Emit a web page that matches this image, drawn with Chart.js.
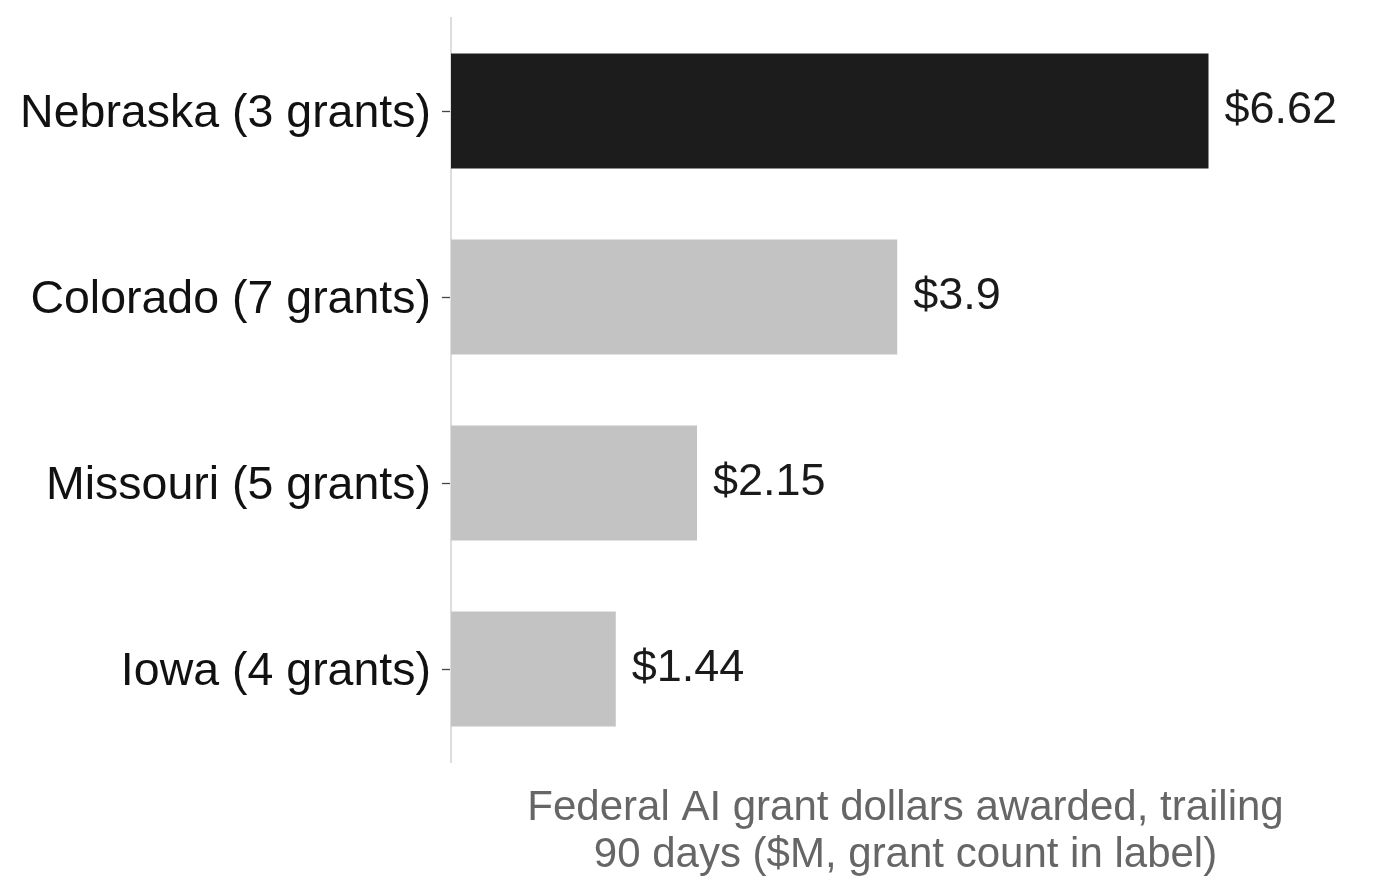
<!DOCTYPE html>
<html lang="en">
<head>
    <meta charset="UTF-8">
    <title>Federal AI grant dollars</title>
    <style>
        html, body {
            margin: 0;
            padding: 0;
            background: #ffffff;
        }
        #wrap {
            width: 1379px;
            height: 895px;
        }
    </style>
    <script src="https://cdn.jsdelivr.net/npm/chart.js"></script>
</head>
<body>
    <div id="wrap"><canvas id="grantChart"></canvas></div>
    <script>
        // chart data
        const states = ['Nebraska (3 grants)', 'Colorado (7 grants)', 'Missouri (5 grants)', 'Iowa (4 grants)'];
        const dollars = [6.62, 3.9, 2.15, 1.44];
        const valueLabels = ['$6.62', '$3.9', '$2.15', '$1.44'];
        const axisTitle = ['Federal AI grant dollars awarded, trailing', '90 days ($M, grant count in label)'];

        const FONT = "'Liberation Sans', Arial, Helvetica, sans-serif";

        // write the dollar amount just past the end of each bar
        const barValues = {
            id: 'barValues',
            afterDatasetsDraw(chart) {
                const ctx = chart.ctx;
                const meta = chart.getDatasetMeta(0);
                ctx.save();
                ctx.font = '45px ' + FONT;
                ctx.fillStyle = '#1a1a1a';
                ctx.textAlign = 'left';
                ctx.textBaseline = 'middle';
                meta.data.forEach((bar, i) => {
                    ctx.fillText(valueLabels[i], bar.x + 16, bar.y);
                });
                ctx.restore();
            }
        };

        new Chart(document.getElementById('grantChart'), {
            type: 'bar',
            data: {
                labels: states,
                datasets: [{
                    data: dollars,
                    backgroundColor: dollars.map((v, i) => i === 0 ? '#1c1c1c' : '#c3c3c3'),
                    borderWidth: 0,
                    barPercentage: 0.617,
                    categoryPercentage: 1.0
                }]
            },
            options: {
                indexAxis: 'y',
                responsive: true,
                maintainAspectRatio: false,
                animation: false,
                layout: {
                    padding: { top: 18, right: 19, left: 0, bottom: 0 }
                },
                plugins: {
                    legend: { display: false },
                    tooltip: { enabled: false }
                },
                scales: {
                    x: {
                        min: 0,
                        max: Math.max(...dollars) * 1.2,
                        grid: { display: false },
                        border: { display: false },
                        ticks: { display: false },
                        title: {
                            display: true,
                            text: axisTitle,
                            color: '#666666',
                            font: { family: FONT, size: 42, lineHeight: 1.12 },
                            padding: { top: 0, bottom: 16 }
                        },
                        afterFit(scale) {
                            scale.height = 133;
                            scale.paddingLeft = 0;
                            scale.paddingRight = 0;
                        }
                    },
                    y: {
                        grid: {
                            offset: false,
                            drawOnChartArea: false,
                            drawTicks: true,
                            tickLength: 9,
                            tickColor: '#444444',
                            tickWidth: 1.3
                        },
                        border: { display: true, color: '#dddddd', width: 2 },
                        ticks: {
                            color: '#111111',
                            padding: 11,
                            labelOffset: 3,
                            font: { family: FONT, size: 46.5 }
                        },
                        afterFit(scale) {
                            scale.width = 451;
                            scale.paddingTop = 0;
                            scale.paddingBottom = 0;
                        }
                    }
                }
            },
            plugins: [barValues]
        });
    </script>
</body>
</html>
